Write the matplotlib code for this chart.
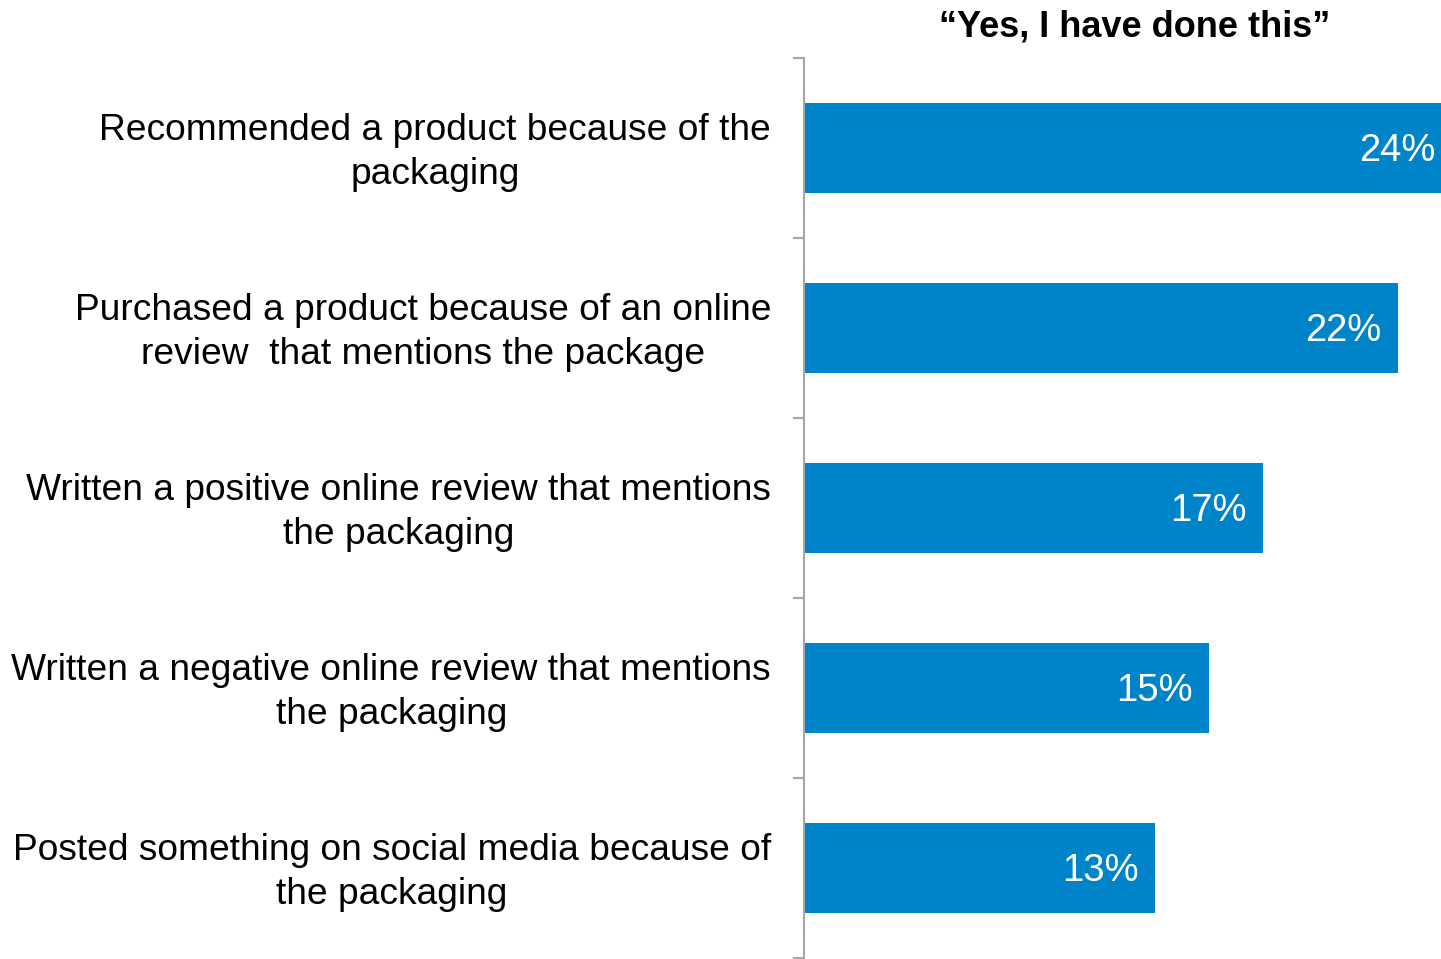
import matplotlib.pyplot as plt
import matplotlib.transforms as mtransforms
import numpy as np

plt.rcParams['font.family'] = ['Liberation Sans', 'DejaVu Sans']

labels = [
    'Recommended a product because of the\npackaging',
    'Purchased a product because of an online\nreview  that mentions the package',
    'Written a positive online review that mentions\nthe packaging',
    'Written a negative online review that mentions\nthe packaging',
    'Posted something on social media because of\nthe packaging',
]
values = [24, 22, 17, 15, 13]
title = '\u201cYes, I have done this\u201d'

W, H = 1441, 959
fig = plt.figure(figsize=(W / 100, H / 100), dpi=100)
ax = fig.add_axes([804 / W, 1 / H, 1 - 804 / W, (H - 59) / H])

y = np.arange(len(values))
bars = ax.barh(y, values, height=0.5, color='#0084C9')

for b, v in zip(bars, values):
    ax.annotate(f'{v}%', (b.get_width(), b.get_y() + b.get_height() / 2),
                xytext=(-16, -3), textcoords='offset pixels',
                ha='right', va='center', color='white', fontsize=27.5,
                annotation_clip=False)

ax.set_xlim(0, 23.6)
ax.set_ylim(len(values) - 0.5, -0.5)
ax.set_xticks([])

# labels at category centres, tick marks at the boundaries
ax.set_yticks(y)
ax.set_yticklabels(labels, fontsize=26.75, multialignment='center',
                   linespacing=1.33)
ax.tick_params(axis='y', which='major', length=0, pad=23.7)
shift = mtransforms.ScaledTranslation(0, 4 / 100, fig.dpi_scale_trans)
for t in ax.get_yticklabels():
    t.set_transform(t.get_transform() + shift)
ax.set_yticks(np.arange(len(values) + 1) - 0.5, minor=True)
ax.tick_params(axis='y', which='minor', direction='out', length=8,
               width=1.5, color='#A6A6A6')

for s in ['top', 'right', 'bottom']:
    ax.spines[s].set_visible(False)
ax.spines['left'].set_color('#A6A6A6')
ax.spines['left'].set_linewidth(1.5)

fig.text(1135 / W, 1 - 27 / H, title, ha='center', va='center',
         fontsize=26, fontweight='bold')

fig.savefig('out.png', dpi=100)
